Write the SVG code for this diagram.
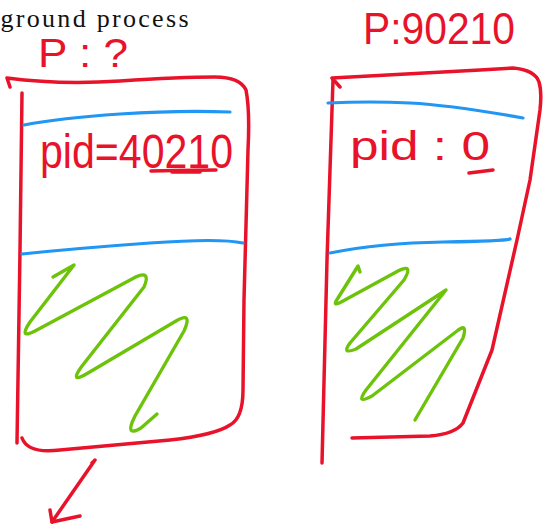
<svg xmlns="http://www.w3.org/2000/svg" width="548" height="529" viewBox="0 0 548 529">
  <style>
    .ink-red { fill: none; stroke: #e8132a; stroke-width: 3.5; stroke-linecap: round; stroke-linejoin: round; }
    .ink-blue { fill: none; stroke: #2196f3; stroke-width: 3.2; stroke-linecap: round; stroke-linejoin: round; }
    .ink-green { fill: none; stroke: #6cc30a; stroke-width: 3.4; stroke-linecap: round; stroke-linejoin: round; }
    .hand { fill: #e8132a; font-family: "Liberation Sans", Arial, sans-serif; }
    .caption { fill: #111; font-family: "Liberation Serif", "Times New Roman", serif; font-size: 26px; }
  </style>
  <rect width="548" height="529" fill="#ffffff"/>

  <!-- caption line at the top -->
  <text class="caption" x="0.5" y="27" textLength="188" lengthAdjust="spacing">ground process</text>

  <!-- parent process -->
  <g id="parent-process">
    <text class="hand" x="38" y="67" font-size="40" textLength="90" lengthAdjust="spacingAndGlyphs">P : ?</text>
    <!-- outer frame -->
    <path class="ink-red" d="M10,87 L7,78 Q60,85 120,81 T215,77 Q240,77 246,90 Q250,110 248,150 L244,300 L243,390 Q243,418 230,425 Q215,435 170,440 L60,450 Q28,454 22,438"/>
    <path class="ink-red" d="M22,93 L20,250 L17,443"/>
    <!-- section dividers -->
    <path class="ink-blue" d="M24,125 Q60,118 120,114 T230,112"/>
    <path class="ink-blue" d="M22,254 Q80,248 150,243 T243,243"/>
    <!-- process id -->
    <text class="hand" x="40" y="168" font-size="48" textLength="193" lengthAdjust="spacingAndGlyphs">pid=40210</text>
    <path class="ink-red" d="M151,171 L175,170.5 L216,170" stroke-width="4"/>
    <path class="ink-red" d="M172,172 L200,172" stroke-width="5"/>
    <!-- code area scribble -->
    <path class="ink-green" d="M53,277 L74,265 L30,322 Q18,340 35,331 L132,279 Q152,268 144,287 L82,366 Q68,385 88,373 L176,321 Q193,311 184,331 L135,416 Q124,438 141,428 L157,414"/>
  </g>

  <!-- child process -->
  <g id="child-process">
    <text class="hand" x="363" y="44" font-size="45" textLength="152" lengthAdjust="spacingAndGlyphs">P:90210</text>
    <!-- outer frame -->
    <path class="ink-red" d="M340,87 L332,78 Q420,73 480,70 L513,68 Q535,70 539,82 Q542,92 540,110 L530,180 L517,240 L492,350 L463,423 Q455,434 430,436 L352,438"/>
    <path class="ink-red" d="M333,80 L327,260 L322,463"/>
    <!-- section dividers -->
    <path class="ink-blue" d="M328,103 Q370,101 410,103 T523,118"/>
    <path class="ink-blue" d="M330,253 Q380,243 443,242 T510,239"/>
    <!-- process id -->
    <text class="hand" x="350" y="160" font-size="40" textLength="140" lengthAdjust="spacingAndGlyphs">pid : 0</text>
    <path class="ink-red" d="M469,173 L493,170" stroke-width="4"/>
    <!-- code area scribble -->
    <path class="ink-green" d="M360,272 L358,266 L338,298 Q331,308 343,301 L398,271 Q414,263 404,280 L350,343 Q341,355 356,349 L446,290 L366,390 Q355,405 372,396 L457,331 Q468,322 463,338 L415,420"/>
  </g>

  <!-- connectors -->
  <g id="connectors">
    <path class="ink-red" d="M92,463 L95,460 L52,522"/>
    <path class="ink-red" d="M50,510 L52,522 L80,516"/>
  </g>
</svg>
